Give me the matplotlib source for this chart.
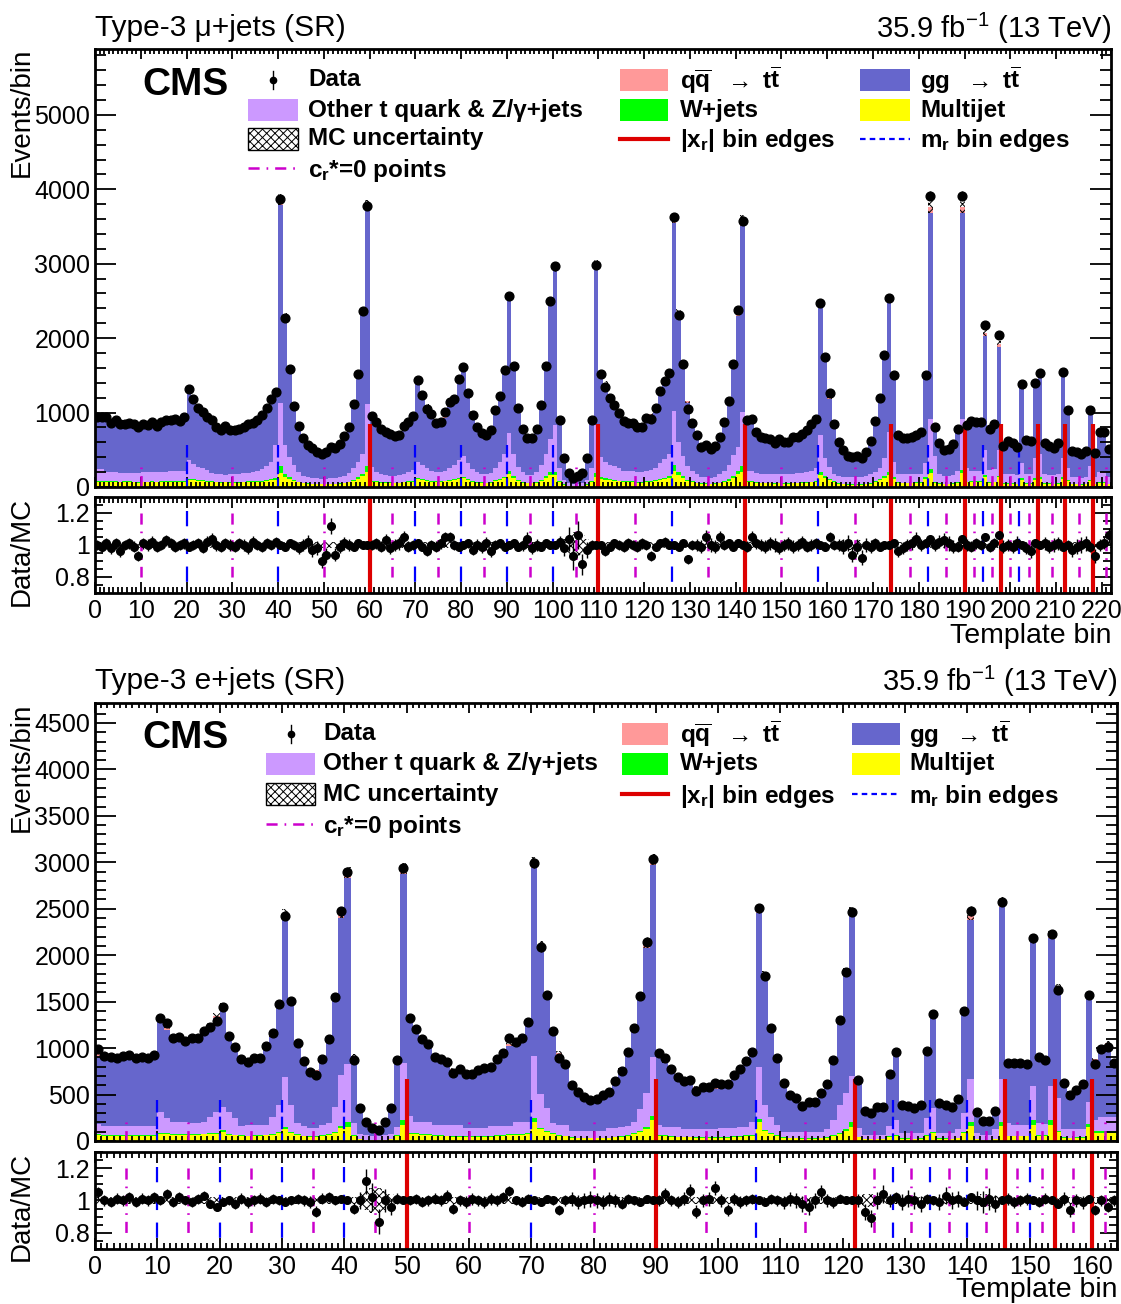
import numpy as np
import matplotlib.pyplot as plt
from matplotlib.patches import Rectangle
from matplotlib.lines import Line2D
from matplotlib.ticker import MultipleLocator

plt.rcParams['font.family'] = ['Liberation Sans', 'DejaVu Sans']
plt.rcParams['mathtext.fontset'] = 'custom'
plt.rcParams['mathtext.rm'] = 'Liberation Sans'
plt.rcParams['mathtext.it'] = 'Liberation Sans:italic'
plt.rcParams['mathtext.bf'] = 'Liberation Sans:bold'
plt.rcParams['hatch.linewidth'] = 0.7
plt.rcParams['lines.scale_dashes'] = False

# ---------------- mu+jets (top) ----------------
mu_data = [934, 934, 934, 865, 905, 840, 850, 860, 840, 800,
           840, 830, 875, 820, 875, 905, 905, 920, 890, 945,
           1314, 1180, 1055, 1010, 945, 905, 810, 765, 815, 765,
           765, 775, 810, 850, 865, 905, 970, 1055, 1180, 1280,
           3865, 2274, 1590, 1085, 815, 665, 570, 525, 465, 450,
           475, 540, 525, 575, 685, 810, 1120, 1524, 2364, 3780,
           948, 875, 773, 742, 710, 684, 693, 822, 875, 948,
           1434, 1233, 1046, 975, 863, 867, 1001, 1148, 1189, 1448,
           1613, 1264, 965, 804, 720, 697, 764, 1032, 1224, 1568,
           2560, 1627, 1064, 782, 661, 661, 782, 1108, 1623, 2498,
           2963, 898, 384, 192, 116, 148, 183, 384, 898, 2985,
           1524, 1345, 1202, 1108, 988, 890, 854, 863, 800, 800,
           930, 916, 1055, 1291, 1425, 1533, 3624, 2315, 1658, 1050,
           854, 693, 541, 559, 505, 550, 675, 876, 1157, 1658,
           2372, 3579, 898, 907, 733, 675, 661, 639, 594, 644,
           608, 608, 666, 666, 711, 764, 845, 912, 2470, 1747,
           1269, 849, 608, 496, 416, 398, 411, 393, 473, 616,
           881, 1198, 1769, 2538, 1501, 692, 661, 661, 675, 697,
           742, 1510, 3914, 800, 594, 496, 505, 572, 782, 3914,
           827, 890, 872, 872, 2172, 786, 845, 2038, 554, 616,
           594, 532, 1390, 630, 617, 1399, 1533, 585, 554, 527,
           585, 1546, 1041, 482, 465, 442, 478, 1041, 460, 742, 742, 505]

mu_ratio = [1.00, 0.99, 1.01, 0.98, 1.01, 0.96, 1.00, 1.01, 0.99, 0.93,
            1.01, 1.00, 1.02, 0.99, 1.00, 1.03, 1.01, 0.99, 1.00, 1.01,
            0.99, 1.00, 1.01, 0.98, 1.02, 1.04, 1.00, 0.99, 1.01, 1.00,
            0.99, 1.01, 1.00, 0.98, 1.02, 1.00, 0.99, 1.01, 1.00, 1.02,
            1.00, 0.99, 1.01, 1.00, 0.98, 1.00, 1.02, 0.97, 0.98, 0.90,
            0.94, 1.12, 0.94, 0.99, 1.01, 1.00, 0.99, 1.01, 1.00, 1.00,
            1.00, 1.01, 0.99, 1.03, 0.98, 1.00, 1.01, 1.05, 0.99, 1.00,
            1.01, 0.99, 0.96, 1.00, 0.99, 1.01, 1.05, 1.05, 1.00, 0.99,
            1.00, 1.01, 0.97, 1.00, 0.99, 1.01, 0.96, 1.00, 1.01, 0.99,
            1.00, 1.01, 0.99, 1.00, 1.04, 0.98, 1.00, 0.99, 1.01, 1.00,
            1.00, 1.02, 0.98, 1.04, 0.93, 1.06, 0.88, 0.97, 1.00, 1.00,
            1.00, 0.96, 0.99, 1.01, 1.00, 0.99, 1.01, 1.00, 0.99, 1.01,
            1.00, 0.93, 0.99, 1.01, 1.02, 1.00, 1.00, 0.99, 1.01, 0.91,
            1.00, 1.00, 0.99, 1.05, 1.00, 0.99, 1.05, 1.00, 1.01, 0.99,
            1.01, 1.00, 0.99, 1.05, 1.01, 1.00, 0.99, 1.01, 1.00, 0.98,
            1.00, 1.01, 0.99, 1.00, 1.02, 0.99, 1.00, 1.01, 1.00, 0.99,
            1.05, 1.00, 1.00, 0.99, 1.01, 0.94, 0.99, 0.92, 1.00, 0.99,
            1.01, 0.99, 1.00, 1.00, 1.01, 0.96, 0.98, 1.00, 1.01, 1.04,
            1.00, 1.01, 1.04, 1.00, 1.02, 1.03, 1.01, 0.99, 0.99, 1.04,
            1.00, 0.99, 1.01, 1.00, 1.05, 0.99, 1.01, 1.06, 0.99, 1.00,
            0.99, 1.01, 1.00, 0.98, 0.96, 1.01, 1.00, 1.01, 0.99, 1.00,
            1.01, 0.99, 1.00, 0.97, 0.99, 1.00, 1.01, 0.99, 0.93, 1.00, 1.01, 1.06]

mu_multijet = [70, 70, 70, 65, 68, 63, 64, 65, 63, 60, 63, 62, 66, 62, 66, 68, 68, 69, 67, 71,
               95, 88, 80, 76, 71, 68, 61, 57, 61, 57, 57, 58, 61, 64, 65, 68, 73, 79, 88, 100,
               192, 140, 110, 80, 61, 50, 43, 39, 35, 34, 36, 40, 39, 43, 51, 61, 84, 110, 150, 206,
               71, 66, 58, 56, 53, 51, 52, 62, 66, 71,
               105, 92, 78, 73, 65, 65, 75, 86, 89, 105,
               115, 95, 72, 60, 54, 52, 57, 77, 92, 115,
               175, 120, 80, 59, 50, 50, 59, 83, 120, 161,
               161, 67, 29, 14, 9, 11, 14, 29, 67, 139,
               114, 100, 90, 83, 74, 67, 64, 65, 60, 60,
               70, 69, 79, 97, 107, 125, 219, 160, 124, 79,
               64, 52, 41, 42, 38, 41, 51, 66, 87, 124,
               170, 197, 67, 68, 55, 51, 50, 48, 45, 48,
               46, 46, 50, 50, 53, 57, 63, 68, 161, 125,
               95, 64, 46, 37, 31, 30, 31, 29, 35, 46,
               66, 90, 125, 161, 110, 52, 50, 50, 51, 52,
               56, 110, 184, 60, 45, 37, 38, 43, 59, 192,
               62, 67, 65, 65, 140, 59, 63, 130, 42, 46,
               45, 40, 100, 47, 46, 100, 110, 44, 42, 40,
               44, 110, 78, 36, 35, 33, 36, 78, 35, 56, 56, 38]

mu_wjets = [12, 12, 12, 11, 11, 10, 10, 11, 10, 10, 10, 10, 11, 10, 11, 11, 11, 12, 11, 12,
            18, 15, 13, 12, 11, 11, 10, 9, 10, 9, 9, 9, 10, 10, 11, 11, 12, 14, 16, 25,
            90, 40, 22, 14, 10, 8, 7, 6, 6, 5, 6, 6, 6, 7, 8, 10, 14, 20, 30, 76,
            12, 11, 9, 9, 8, 8, 8, 10, 11, 12,
            20, 16, 13, 12, 10, 10, 12, 14, 15, 20,
            25, 16, 12, 10, 9, 8, 9, 13, 15, 20,
            40, 22, 13, 10, 8, 8, 10, 14, 22, 36,
            36, 11, 5, 2, 2, 2, 2, 5, 11, 45,
            19, 17, 15, 14, 12, 11, 10, 11, 10, 10,
            12, 11, 13, 16, 18, 20, 76, 35, 21, 13,
            10, 8, 7, 7, 6, 7, 8, 11, 14, 22,
            40, 85, 11, 11, 9, 8, 8, 8, 7, 8,
            8, 8, 8, 8, 9, 9, 10, 11, 44, 22,
            16, 10, 8, 6, 5, 5, 5, 5, 6, 8,
            11, 15, 22, 44, 20, 9, 8, 8, 8, 9,
            9, 20, 58, 10, 7, 6, 6, 7, 10, 36,
            10, 11, 11, 11, 25, 10, 10, 24, 7, 8,
            7, 7, 18, 8, 8, 18, 20, 7, 7, 7,
            7, 20, 13, 6, 6, 5, 6, 13, 6, 9, 9, 6]

mu_other = [155, 155, 118, 119, 116, 117, 116, 114, 117, 120, 122, 123, 123, 128, 128, 126, 131, 129, 137, 132,
            249, 205, 180, 163, 146, 111, 104, 104, 94, 104, 109, 108, 114, 116, 124, 131, 155, 187, 226, 438,
            844, 383, 265, 201, 129, 92, 80, 75, 74, 71, 68, 69, 75, 80, 91, 119, 162, 200, 270, 831,
            187, 123, 103, 95, 89, 91, 95, 108, 123, 147,
            205, 182, 159, 135, 125, 125, 133, 160, 196, 235,
            280, 209, 156, 130, 112, 110, 124, 160, 223, 315,
            505, 308, 177, 131, 102, 102, 131, 203, 308, 453,
            633, 172, 56, 34, 24, 27, 34, 56, 172, 646,
            267, 213, 195, 183, 164, 142, 136, 134, 130, 130,
            138, 150, 168, 207, 255, 305, 728, 405, 275, 188,
            146, 120, 92, 81, 81, 87, 111, 143, 199, 284,
            330, 728, 142, 131, 126, 121, 117, 119, 118, 114,
            121, 121, 122, 127, 128, 134, 147, 171, 492, 238,
            161, 101, 96, 97, 94, 95, 94, 96, 109, 116,
            123, 155, 237, 528, 210, 119, 112, 112, 111, 114,
            115, 188, 678, 350, 118, 107, 106, 110, 151, 692,
            188, 142, 134, 134, 331, 161, 167, 342, 121, 127,
            123, 113, 202, 125, 126, 266, 320, 119, 111, 108,
            119, 254, 169, 88, 89, 82, 88, 189, 99, 135, 135, 96]

mu_qqbar = [18, 18, 18, 17, 18, 16, 17, 17, 16, 16, 16, 16, 17, 16, 17, 18, 18, 18, 17, 18,
            26, 23, 21, 20, 18, 18, 16, 15, 16, 15, 15, 15, 16, 17, 17, 18, 19, 21, 23, 25,
            75, 45, 31, 21, 16, 13, 11, 10, 9, 9, 9, 11, 10, 11, 13, 16, 22, 30, 46, 74,
            19, 17, 15, 15, 14, 13, 14, 16, 17, 19,
            28, 24, 20, 19, 17, 17, 20, 22, 23, 28,
            31, 25, 19, 16, 14, 14, 15, 20, 24, 31,
            50, 32, 21, 15, 13, 13, 15, 22, 32, 49,
            58, 18, 8, 4, 3, 3, 4, 8, 18, 58,
            30, 26, 23, 22, 19, 17, 17, 17, 16, 16,
            18, 18, 21, 25, 28, 30, 71, 45, 32, 21,
            17, 14, 11, 11, 10, 11, 13, 17, 23, 32,
            46, 70, 18, 18, 14, 13, 13, 12, 12, 13,
            12, 12, 13, 13, 14, 15, 16, 18, 48, 34,
            25, 17, 12, 10, 8, 8, 8, 8, 9, 12,
            17, 23, 35, 50, 29, 14, 13, 13, 13, 14,
            15, 30, 77, 16, 12, 10, 10, 11, 15, 77,
            16, 17, 17, 17, 42, 15, 16, 40, 11, 12,
            12, 10, 27, 12, 12, 27, 30, 11, 11, 10,
            11, 30, 20, 9, 9, 9, 9, 20, 9, 15, 15, 10]

mu_mc_unc = [0.02] * 102 + [0.04, 0.06, 0.08, 0.07, 0.06, 0.04] + [0.02] * 55 + [0.03] * 5 + [0.02] * 54

mu_xr_edges = [60, 110, 142, 174, 190, 198, 206, 212, 218]
mu_mr_edges = [20, 40, 70, 80, 90, 100, 126, 158, 182, 194, 202]
mu_cr_points = [10, 30, 50, 65, 75, 85, 95, 105, 118, 134, 150, 166, 178, 186,
                192, 196, 200, 204, 209, 215, 221]

# ---------------- e+jets (bottom) ----------------
e_data = [987, 915, 904, 890, 915, 926, 890, 904, 890, 926,
          1321, 1274, 1110, 1121, 1076, 1105, 1105, 1184, 1224, 1292,
          1446, 1134, 1009, 883, 847, 893, 893, 1022, 1159, 1471,
          2425, 1507, 1052, 861, 746, 710, 883, 1098, 1553, 2472,
          2892, 872, 359, 208, 136, 118, 208, 352, 872, 2935,
          1321, 1202, 1098, 1041, 908, 883, 854, 735, 775, 721,
          721, 764, 782, 800, 883, 944, 1105, 1062, 1110, 1285,
          2996, 2085, 1571, 1188, 890, 829, 600, 524, 477, 441,
          452, 495, 531, 649, 757, 954, 1220, 1561, 2145, 3032,
          944, 890, 771, 689, 649, 656, 542, 585, 585, 621,
          610, 610, 710, 778, 865, 962, 2505, 1776, 1213, 897,
          621, 495, 459, 380, 423, 423, 520, 614, 872, 1302,
          1822, 2468, 657, 327, 305, 363, 363, 718, 954, 388,
          377, 359, 388, 972, 1367, 413, 388, 370, 449, 1403,
          2476, 309, 215, 215, 327, 2576, 836, 836, 836, 825,
          2182, 901, 872, 2228, 1625, 621, 495, 549, 614, 1571,
          825, 987, 1015, 843]

e_ratio = [1.05, 1.00, 0.99, 1.01, 1.00, 1.02, 0.99, 1.01, 1.00, 1.02,
           1.00, 1.04, 0.99, 1.02, 1.00, 0.99, 1.01, 1.03, 0.98, 0.96,
           0.99, 1.00, 0.98, 1.01, 0.99, 1.00, 1.01, 0.99, 1.01, 1.00,
           0.99, 1.00, 1.01, 1.00, 0.99, 0.93, 1.01, 1.02, 1.00, 1.01,
           1.00, 0.95, 1.00, 1.12, 1.02, 0.87, 1.00, 0.96, 1.01, 1.00,
           1.00, 1.01, 0.99, 1.00, 1.01, 1.00, 1.03, 0.95, 1.00, 0.99,
           1.01, 1.00, 0.99, 1.01, 1.00, 1.02, 1.06, 1.00, 0.99, 1.01,
           1.00, 0.99, 1.01, 1.00, 0.94, 1.00, 1.01, 0.99, 1.00, 1.01,
           1.00, 0.99, 1.01, 1.00, 0.98, 1.01, 1.00, 0.99, 1.01, 1.00,
           1.00, 1.04, 1.00, 0.99, 1.01, 1.06, 0.93, 1.00, 1.01, 1.08,
           1.00, 0.94, 1.01, 0.99, 1.00, 1.01, 1.00, 0.99, 1.01, 1.00,
           0.99, 1.01, 1.00, 0.98, 0.96, 1.00, 1.05, 1.00, 0.99, 1.01,
           1.00, 1.00, 1.00, 0.93, 0.89, 1.00, 1.04, 1.00, 1.02, 0.99,
           1.01, 1.00, 0.98, 1.01, 1.00, 0.99, 1.03, 1.00, 1.01, 0.99,
           1.02, 1.00, 0.99, 1.01, 0.98, 1.00, 1.01, 0.99, 1.00, 1.01,
           1.00, 0.99, 1.01, 1.00, 0.98, 1.01, 0.94, 1.00, 0.99, 1.01,
           0.94, 1.00, 0.96, 1.00]

e_multijet = [66, 55, 55, 54, 55, 56, 54, 55, 54, 56,
              75, 72, 66, 66, 64, 65, 65, 70, 72, 76,
              100, 68, 60, 53, 51, 54, 54, 61, 68, 85,
              126, 88, 62, 52, 45, 43, 53, 65, 90, 135,
              154, 52, 22, 13, 9, 8, 13, 22, 52, 176,
              78, 72, 66, 62, 55, 53, 51, 44, 47, 44,
              44, 46, 47, 48, 53, 57, 66, 64, 66, 77,
              200, 125, 94, 71, 54, 50, 36, 32, 29, 27,
              27, 30, 32, 39, 45, 57, 73, 94, 129, 226,
              57, 53, 46, 41, 39, 39, 33, 35, 35, 37,
              37, 37, 43, 47, 52, 58, 200, 107, 73, 54,
              37, 30, 28, 23, 25, 25, 31, 37, 52, 78,
              109, 154, 40, 20, 18, 22, 22, 43, 57, 23,
              23, 22, 23, 58, 82, 25, 23, 22, 27, 84,
              161, 19, 13, 13, 20, 161, 50, 50, 50, 50,
              176, 54, 52, 176, 98, 37, 30, 33, 37, 150,
              90, 90, 90, 90]

e_wjets = [8, 7, 7, 7, 7, 7, 7, 7, 7, 7,
           10, 9, 8, 8, 8, 8, 8, 9, 9, 10,
           20, 9, 8, 7, 7, 7, 7, 8, 9, 12,
           25, 12, 8, 7, 6, 6, 7, 8, 12, 30,
           46, 8, 3, 2, 1, 1, 2, 3, 8, 50,
           12, 10, 9, 8, 7, 7, 7, 6, 6, 6,
           6, 6, 6, 7, 7, 8, 9, 9, 9, 12,
           44, 20, 14, 10, 8, 7, 5, 5, 4, 4,
           4, 4, 5, 6, 7, 8, 11, 14, 20, 43,
           8, 8, 7, 6, 6, 6, 5, 5, 5, 6,
           6, 6, 7, 7, 8, 9, 33, 16, 11, 8,
           6, 5, 4, 4, 4, 4, 5, 6, 8, 12,
           18, 46, 6, 3, 3, 3, 3, 7, 9, 4,
           4, 3, 4, 9, 13, 4, 4, 3, 4, 13,
           47, 3, 2, 2, 3, 47, 8, 8, 8, 8,
           50, 8, 8, 50, 15, 6, 5, 5, 6, 35,
           14, 14, 14, 14]

e_other = [106, 99, 99, 100, 99, 102, 104, 103, 100, 98,
           231, 163, 134, 134, 136, 117, 117, 129, 181, 230,
           249, 239, 176, 105, 118, 115, 115, 107, 185, 291,
           541, 288, 120, 99, 89, 91, 116, 117, 267, 545,
           629, 130, 55, 45, 40, 41, 45, 55, 90, 610,
           179, 126, 133, 138, 114, 116, 118, 126, 123, 90,
           90, 88, 87, 103, 98, 93, 83, 135, 133, 119,
           671, 361, 244, 109, 114, 119, 63, 67, 71, 73,
           73, 70, 103, 95, 98, 100, 124, 232, 371, 635,
           111, 94, 102, 108, 81, 81, 88, 86, 86, 83,
           97, 97, 95, 96, 90, 133, 567, 261, 178, 114,
           57, 65, 68, 73, 71, 71, 64, 83, 166, 294,
           387, 504, 94, 42, 44, 40, 40, 108, 160, 63,
           63, 65, 63, 177, 257, 61, 63, 65, 95, 208,
           460, 68, 50, 50, 103, 460, 132, 118, 118, 118,
           366, 128, 120, 366, 345, 83, 91, 88, 83, 235,
           122, 158, 158, 158]

e_qqbar = [20, 18, 18, 18, 18, 19, 18, 18, 18, 19,
           26, 25, 22, 22, 22, 22, 22, 24, 24, 26,
           29, 23, 20, 18, 17, 18, 18, 20, 23, 29,
           48, 30, 21, 17, 15, 14, 18, 22, 31, 49,
           58, 17, 7, 4, 3, 2, 4, 7, 17, 59,
           26, 24, 22, 21, 18, 18, 17, 15, 16, 14,
           14, 15, 16, 16, 18, 19, 22, 21, 22, 26,
           60, 42, 31, 24, 18, 17, 12, 10, 10, 9,
           9, 10, 11, 13, 15, 19, 24, 31, 43, 61,
           19, 18, 15, 14, 13, 13, 11, 12, 12, 12,
           12, 12, 14, 16, 17, 19, 50, 36, 24, 18,
           12, 10, 9, 8, 8, 8, 10, 12, 17, 26,
           36, 49, 13, 7, 6, 7, 7, 14, 19, 8,
           8, 7, 8, 19, 27, 8, 8, 7, 9, 28,
           50, 6, 4, 4, 7, 52, 17, 17, 17, 17,
           44, 18, 17, 45, 33, 12, 10, 11, 12, 31,
           17, 20, 20, 17]

e_mc_unc = ([0.02] * 42 + [0.04, 0.06, 0.08, 0.08, 0.06, 0.04] + [0.02] * 75 +
            [0.04, 0.04, 0.03, 0.03] + [0.02] * 14 + [0.03, 0.04, 0.04, 0.03] + [0.02] * 19)

e_xr_edges = [50, 90, 122, 146, 154, 160]
e_mr_edges = [10, 20, 30, 40, 70, 106, 128, 134, 140, 150]
e_cr_points = [5, 15, 25, 35, 45, 60, 80, 98, 114, 125, 131, 137, 143,
               148, 152, 157, 162]

# ---------------- style ----------------
W, H = 1121, 1304
c_gg = '#6666cc'
c_qq = '#ff9999'
c_other = '#cc99ff'
c_wj = '#00ff00'
c_mj = '#ffff00'
c_red = '#dd0000'
c_blue = '#0000ff'
c_mag = '#cc00cc'
dash_blue = (0, (9, 3))
dash_blue_r = (0, (11, 9))
dash_mag = (13, (8, 5, 1.2, 5))
TICK = 18


def fbox(x0, y0, x1, y1):
    # pixel box (top-left origin) -> figure fraction rect
    return [x0 / W, 1 - y1 / H, (x1 - x0) / W, (y1 - y0) / H]


def fpt(x, y):
    return x / W, 1 - y / H


def style_axis(ax, xmax, lw=2):
    for s in ax.spines.values():
        s.set_linewidth(lw)
    ax.set_xlim(0, xmax)
    ax.xaxis.set_major_locator(MultipleLocator(10))
    ax.xaxis.set_minor_locator(MultipleLocator(1))
    ax.tick_params(which='both', direction='in', top=True, right=True, labelsize=TICK, width=1.3)


fig = plt.figure(figsize=(W / 100, H / 100), dpi=100)


def draw_panel(main_px, ratio_px, data, ratio, mj, wj, other, qq, unc, ymax, ymaj, ymin,
               xr_edges, mr_edges, cr_points, red_h, blue_h, mag_h):
    data = np.array(data, float)
    ratio = np.array(ratio, float)
    mj = np.array(mj, float)
    wj = np.array(wj, float)
    other = np.array(other, float)
    qq = np.array(qq, float)
    unc = np.array(unc, float)
    n = len(data)
    edges = np.arange(n + 1)
    centers = edges[:-1] + 0.5
    mc = data / ratio
    gg = np.clip(mc - mj - wj - other - qq, 0, None)

    ax = fig.add_axes(fbox(*main_px))
    s1 = mj
    s2 = s1 + wj
    s3 = s2 + other
    s4 = s3 + gg
    s5 = s4 + qq
    ax.stairs(s1, edges, baseline=0, fill=True, color=c_mj, lw=0)
    ax.stairs(s2, edges, baseline=s1, fill=True, color=c_wj, lw=0)
    ax.stairs(s3, edges, baseline=s2, fill=True, color=c_other, lw=0)
    ax.stairs(s4, edges, baseline=s3, fill=True, color=c_gg, lw=0)
    ax.stairs(s5, edges, baseline=s4, fill=True, color=c_qq, lw=0)
    ax.bar(edges[:-1], 2 * unc * s5, bottom=s5 * (1 - unc), width=1, align='edge',
           fill=False, hatch='xxxx', lw=0, edgecolor='k')

    ax.vlines(xr_edges, 0, red_h, colors=c_red, lw=3)
    ax.vlines(mr_edges, blue_h, 0, colors=c_blue, lw=1.6, linestyles=dash_blue)
    ax.vlines(cr_points, mag_h, 0, colors=c_mag, lw=1.8, linestyles=dash_mag)

    ax.errorbar(centers, data, yerr=np.sqrt(data), fmt='o', color='k', ms=6.3,
                elinewidth=1, capsize=0)
    style_axis(ax, n)
    ax.set_ylim(0, ymax)
    ax.yaxis.set_major_locator(MultipleLocator(ymaj))
    ax.yaxis.set_minor_locator(MultipleLocator(ymin))
    ax.tick_params(axis='y', which='major', length=15)
    ax.tick_params(axis='y', which='minor', length=8)
    ax.tick_params(axis='x', which='major', length=7)
    ax.tick_params(axis='x', which='minor', length=3.5)
    ax.set_xticklabels([])

    rx = fig.add_axes(fbox(*ratio_px))
    rx.bar(edges[:-1], 2 * unc, bottom=1 - unc, width=1, align='edge',
           fill=False, hatch='xxxx', lw=0, edgecolor='k')
    rx.vlines(xr_edges, 0.7, 1.3, colors=c_red, lw=3)
    rx.vlines(mr_edges, 1.21, 0.77, colors=c_blue, lw=1.6, linestyles=dash_blue_r)
    rx.vlines(cr_points, 1.20, 0.80, colors=c_mag, lw=1.8, linestyles=(0, (8, 5, 1.2, 5)))
    rx.errorbar(centers, ratio, yerr=ratio / np.sqrt(data), fmt='o', color='k', ms=5.5,
                elinewidth=1, capsize=0)
    style_axis(rx, n)
    rx.set_ylim(0.7, 1.3)
    rx.set_yticks([0.8, 1.0, 1.2])
    rx.set_yticklabels(['0.8', '1', '1.2'])
    rx.yaxis.set_minor_locator(MultipleLocator(0.05))
    rx.tick_params(axis='y', which='major', length=12)
    rx.tick_params(axis='y', which='minor', length=6)
    rx.tick_params(axis='x', which='major', length=8, pad=4)
    rx.tick_params(axis='x', which='minor', length=4)
    return ax, rx


draw_panel((95, 49, 1111, 487), (95, 497, 1111, 593), mu_data, mu_ratio, mu_multijet, mu_wjets,
           mu_other, mu_qqbar, mu_mc_unc, 5885, 1000, 200,
           mu_xr_edges, mu_mr_edges, mu_cr_points, 845, 563, 272)
draw_panel((95, 703, 1117, 1141), (95, 1152, 1117, 1249), e_data, e_ratio, e_multijet, e_wjets,
           e_other, e_qqbar, e_mc_unc, 4715, 500, 100,
           e_xr_edges, e_mr_edges, e_cr_points, 667, 441, 208)

# ---------------- text ----------------
fig.text(*fpt(95, 28), 'Type-3 μ+jets (SR)', fontsize=21.5, ha='left', va='center')
fig.text(*fpt(1111, 28), '35.9 fb$^{-1}$ (13 TeV)', fontsize=21, ha='right', va='center')
fig.text(*fpt(95, 681), 'Type-3 e+jets (SR)', fontsize=21.5, ha='left', va='center')
fig.text(*fpt(1117, 681), '35.9 fb$^{-1}$ (13 TeV)', fontsize=21, ha='right', va='center')

fig.text(*fpt(22, 48), 'Events/bin', fontsize=20, rotation=90, ha='center', va='top')
fig.text(*fpt(22, 703), 'Events/bin', fontsize=20, rotation=90, ha='center', va='top')
fig.text(*fpt(22, 551), 'Data/MC', fontsize=20, rotation=90, ha='center', va='center')
fig.text(*fpt(22, 1206), 'Data/MC', fontsize=20, rotation=90, ha='center', va='center')
fig.text(*fpt(1111, 636), 'Template bin', fontsize=20.5, ha='right', va='center')
fig.text(*fpt(1117, 1290), 'Template bin', fontsize=20.5, ha='right', va='center')

fig.text(*fpt(185, 85), 'CMS', fontsize=28, fontweight='bold', ha='center', va='center')
fig.text(*fpt(185, 738), 'CMS', fontsize=28, fontweight='bold', ha='center', va='center')


def legend(rows, c1, c2, c3):
    # c = (box_x0, box_x1, text_x)
    lab = dict(fontsize=17.5, fontweight='bold', ha='left', va='center')
    bh = 11

    def box(col, y, **kw):
        x0, y0 = fpt(col[0], y + bh)
        fig.patches.append(Rectangle((x0, y0), (col[1] - col[0]) / W, 2 * bh / H,
                                     transform=fig.transFigure, **kw))

    def hline(col, y, **kw):
        fig.lines.append(Line2D([col[0] / W, col[1] / W], [1 - y / H, 1 - y / H],
                                transform=fig.transFigure, **kw))

    mx = (c1[0] + c1[1]) / 2
    fig.lines.append(Line2D([mx / W, mx / W], [1 - (rows[0] - 9) / H, 1 - (rows[0] + 9) / H],
                            transform=fig.transFigure, color='k', lw=1))
    fig.lines.append(Line2D([mx / W], [1 - rows[0] / H], transform=fig.transFigure,
                            marker='o', ms=4.5, color='k', lw=0))
    fig.text(*fpt(c1[2], rows[0]), 'Data', **lab)
    box(c1, rows[1], color=c_other, lw=0)
    fig.text(*fpt(c1[2], rows[1]), 'Other t quark & Z/γ+jets', **lab)
    box(c1, rows[2], fill=False, hatch='xxxx', edgecolor='k', lw=1)
    fig.text(*fpt(c1[2], rows[2]), 'MC uncertainty', **lab)
    hline(c1, rows[3], color=c_mag, lw=1.8, linestyle=(0, (8, 5, 1.2, 5)))
    fig.text(*fpt(c1[2], rows[3] + 2), '$\\mathbf{c_{r}}$*=0 points', **lab)

    box(c2, rows[0], color=c_qq, lw=0)
    fig.text(*fpt(c2[2], rows[0]), '$\\mathbf{q\\overline{q}}$  $\\mathbf{\\rightarrow}$ $\\mathbf{t\\overline{t}}$', **lab)
    box(c2, rows[1], color=c_wj, lw=0)
    fig.text(*fpt(c2[2], rows[1]), 'W+jets', **lab)
    hline(c2, rows[2], color=c_red, lw=3)
    fig.text(*fpt(c2[2], rows[2] + 2), '|x$_\\mathbf{r}$| bin edges', **lab)

    box(c3, rows[0], color=c_gg, lw=0)
    fig.text(*fpt(c3[2], rows[0]), 'gg  $\\mathbf{\\rightarrow}$ $\\mathbf{t\\overline{t}}$', **lab)
    box(c3, rows[1], color=c_mj, lw=0)
    fig.text(*fpt(c3[2], rows[1]), 'Multijet', **lab)
    hline(c3, rows[2], color=c_blue, lw=1.6, linestyle=(0, (4, 3)))
    fig.text(*fpt(c3[2], rows[2] + 2), 'm$_\\mathbf{r}$ bin edges', **lab)


legend([80, 110, 139, 168], (248, 298, 308), (620, 668, 680), (860, 910, 920))
legend([734, 764, 794, 824], (266, 315, 323), (622, 668, 680), (852, 900, 909))

fig.savefig('out.png', dpi=100)
